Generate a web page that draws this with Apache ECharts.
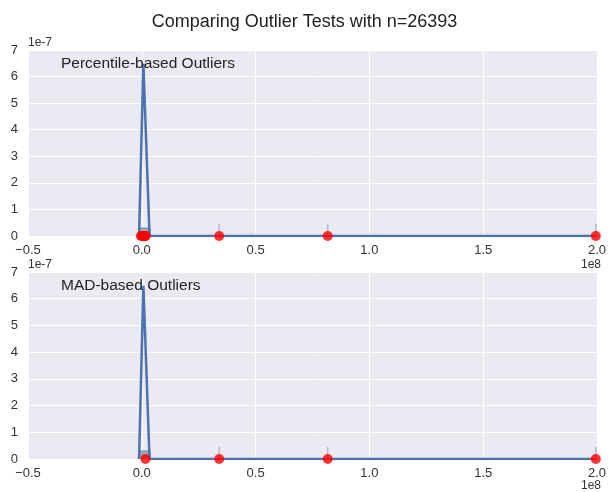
<!DOCTYPE html>
<html>
<head>
<meta charset="utf-8">
<script src="https://cdn.jsdelivr.net/npm/echarts@6/dist/echarts.min.js"></script>
<style>
html,body{margin:0;padding:0;background:#fff;}
#c{width:609px;height:492px;}
</style>
</head>
<body>
<div id="c"></div>
<script>
// x in units of 1e8, y in units of 1e-7
var xTicks = [-0.5, 0.0, 0.5, 1.0, 1.5, 2.0];
var yTicks = [0, 1, 2, 3, 4, 5, 6, 7];
var kdeX = [-0.012, 0.007, 0.034, 0.06, 0.5, 1.0, 1.5, 2.0];
var kdeY = [0, 6.48, 0, 0, 0, 0, 0, 0];
var histEdges = [-0.014, 0.036];
var histHeight = [0.3];
var pctOutliers = [-0.004, 0.002, 0.008, 0.013, 0.018, 0.34, 0.817, 1.995];
var madOutliers = [0.016, 0.34, 0.817, 1.995];
var rugX = [0.34, 0.817, 1.995];
var rugHeight = 0.45;
var titles = ['Percentile-based Outliers', 'MAD-based Outliers'];
var mainTitle = 'Comparing Outlier Tests with n=26393';

var FONT = 'Liberation Sans, Arial, sans-serif';
var BLUE = '#4C72B0';

function fmtX(v){ var s = Math.abs(v).toFixed(1); return (v < 0 ? '\u2212' : '') + s; }

var grids = [
  {left: 28, width: 571, top: 50, height: 186, backgroundColor: '#EAEAF2', show: true, borderWidth: 0},
  {left: 28, width: 571, top: 272, height: 187, backgroundColor: '#EAEAF2', show: true, borderWidth: 0}
];

var xAxes = [], yAxes = [], series = [];
[0,1].forEach(function(i){
  xAxes.push({
    type: 'value', gridIndex: i, min: xTicks[0], max: xTicks[xTicks.length-1], interval: 0.5,
    axisLine: {show: false}, axisTick: {show: false},
    axisLabel: {formatter: fmtX, color: '#333', fontSize: 13, fontFamily: FONT, margin: 8},
    splitLine: {show: true, lineStyle: {color: '#ffffff', width: 1}}
  });
  yAxes.push({
    type: 'value', gridIndex: i, min: yTicks[0], max: yTicks[yTicks.length-1], interval: 1,
    axisLine: {show: false}, axisTick: {show: false},
    axisLabel: {color: '#333', fontSize: 13, fontFamily: FONT, margin: 10},
    splitLine: {show: true, lineStyle: {color: '#ffffff', width: 1}}
  });
  // histogram bar
  series.push({
    type: 'line', xAxisIndex: i, yAxisIndex: i, symbol: 'none', silent: true,
    data: [[histEdges[0],0],[histEdges[0],histHeight[0]],[histEdges[1],histHeight[0]],[histEdges[1],0]],
    lineStyle: {color: '#7a8aa6', width: 1}, areaStyle: {color: '#8893aa', opacity: 0.8}, z: 2
  });
  // KDE
  series.push({
    type: 'line', xAxisIndex: i, yAxisIndex: i, symbol: 'none', silent: true,
    data: kdeX.map(function(x, k){ return [x, kdeY[k]]; }),
    lineStyle: {color: BLUE, width: 2.5}, z: 3
  });
  // rug
  series.push({
    type: 'custom', xAxisIndex: i, yAxisIndex: i, silent: true, z: 3,
    data: rugX.map(function(x){ return [x, rugHeight]; }),
    renderItem: function(params, api){
      var p0 = api.coord([api.value(0), 0]);
      var p1 = api.coord([api.value(0), api.value(1)]);
      return {type: 'line', shape: {x1: p0[0], y1: p0[1], x2: p1[0], y2: p1[1]}, style: {stroke: '#b8b8c4', lineWidth: 1.5}};
    }
  });
  // outliers
  var outl = i === 0 ? pctOutliers : madOutliers;
  series.push({
    type: 'scatter', xAxisIndex: i, yAxisIndex: i, symbol: 'circle', symbolSize: 10, silent: true,
    data: outl.map(function(x){ return [x, 0]; }),
    itemStyle: {color: '#ff0000'}, z: 5
  });
});

var chart = echarts.init(document.getElementById('c'), null, {renderer: 'canvas'});
chart.setOption({
  animation: false,
  backgroundColor: '#ffffff',
  title: [
    {text: mainTitle, left: 'center', top: 8, textStyle: {fontFamily: FONT, fontSize: 18, fontWeight: 'normal', color: '#222'}},
    {text: titles[0], left: 56, top: 51, textStyle: {fontFamily: FONT, fontSize: 15.5, fontWeight: 'normal', color: '#222'}},
    {text: titles[1], left: 56, top: 273, textStyle: {fontFamily: FONT, fontSize: 15.5, fontWeight: 'normal', color: '#222'}}
  ],
  grid: grids,
  xAxis: xAxes,
  yAxis: yAxes,
  series: series,
  graphic: [
    {type: 'text', left: 28, top: 37, style: {text: '1e-7', font: '12px ' + FONT, fill: '#333'}},
    {type: 'text', left: 28, top: 259, style: {text: '1e-7', font: '12px ' + FONT, fill: '#333'}},
    {type: 'text', left: 581, top: 259, style: {text: '1e8', font: '12px ' + FONT, fill: '#333'}},
    {type: 'text', left: 581, top: 480, style: {text: '1e8', font: '12px ' + FONT, fill: '#333'}}
  ]
});
</script>
</body>
</html>
